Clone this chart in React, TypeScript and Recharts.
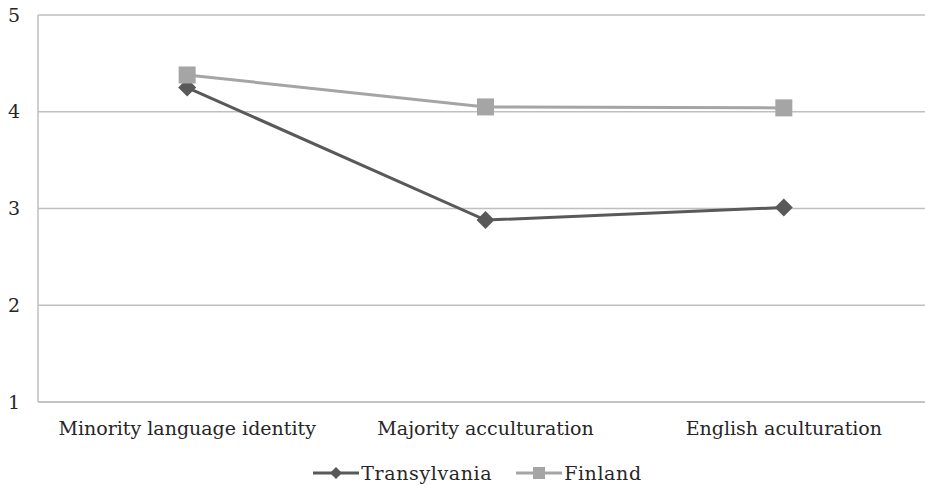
import React from 'react';
import { LineChart, Line, XAxis, YAxis, CartesianGrid, Legend } from 'recharts';

const categories = ['Minority language identity', 'Majority acculturation', 'English aculturation'];
const transylvania = [4.25, 2.88, 3.01];
const finland = [4.38, 4.05, 4.04];
const yTicks = [1, 2, 3, 4, 5];

const DARK = '#595959';
const LIGHT = '#a5a5a5';
const FONT = '"DejaVu Serif", serif';

const data = categories.map((name, i) => ({
  name,
  transylvania: transylvania[i],
  finland: finland[i],
}));

const Diamond = (props: any) => {
  const { cx, cy } = props;
  if (cx == null || cy == null) return null;
  const r = 9;
  return (
    <polygon
      points={`${cx},${cy - r} ${cx + r},${cy} ${cx},${cy + r} ${cx - r},${cy}`}
      fill={DARK}
    />
  );
};

const Square = (props: any) => {
  const { cx, cy } = props;
  if (cx == null || cy == null) return null;
  const s = 17;
  return <rect x={cx - s / 2} y={cy - s / 2} width={s} height={s} fill={LIGHT} />;
};

const LegendContent = () => {
  const item = (label: string, color: string, marker: 'diamond' | 'square') => (
    <div style={{ display: 'flex', alignItems: 'center', marginRight: 24 }}>
      <svg width={46} height={20}>
        <line x1={0} y1={10} x2={46} y2={10} stroke={color} strokeWidth={3} />
        {marker === 'diamond' ? (
          <polygon points="23,4 29,10 23,16 17,10" fill={color} />
        ) : (
          <rect x={17} y={4} width={12} height={12} fill={color} />
        )}
      </svg>
      <span style={{ fontFamily: FONT, fontSize: 19, letterSpacing: 0.6, color: '#262626', marginLeft: 2 }}>{label}</span>
    </div>
  );
  return (
    <div style={{ display: 'flex', justifyContent: 'center', alignItems: 'center', height: 30, paddingLeft: 46 }}>
      {item('Transylvania', DARK, 'diamond')}
      {item('Finland', LIGHT, 'square')}
    </div>
  );
};

export default function App() {
  return (
    <div style={{ width: 925, height: 490, overflow: 'hidden', position: 'relative', background: '#fff' }}>
      <style>{`body{margin:0}`}</style>
      <LineChart
        width={940}
        height={490}
        data={data}
        margin={{ top: 15, right: 7, left: 0, bottom: 2 }}
      >
        <CartesianGrid vertical={false} stroke="#bfbfbf" strokeWidth={1.5} />
        <XAxis
          dataKey="name"
          scale="band"
          height={56}
          axisLine={{ stroke: '#bfbfbf', strokeWidth: 1.5 }}
          tickLine={false}
          tickSize={0}
          tickMargin={20}
          tick={{ fill: '#262626', fontSize: 19, fontFamily: FONT }}
          interval={0}
        />
        <YAxis
          domain={[1, 5]}
          ticks={yTicks}
          width={38}
          axisLine={{ stroke: '#bfbfbf', strokeWidth: 1.5 }}
          tickLine={false}
          tickSize={0}
          tickMargin={18}
          tick={{ fill: '#262626', fontSize: 19, fontFamily: FONT }}
        />
        <Legend verticalAlign="bottom" height={30} content={<LegendContent />} />
        <Line
          dataKey="transylvania"
          name="Transylvania"
          stroke={DARK}
          strokeWidth={3}
          dot={<Diamond />}
          activeDot={false}
          isAnimationActive={false}
        />
        <Line
          dataKey="finland"
          name="Finland"
          stroke={LIGHT}
          strokeWidth={3}
          dot={<Square />}
          activeDot={false}
          isAnimationActive={false}
        />
      </LineChart>
    </div>
  );
}
